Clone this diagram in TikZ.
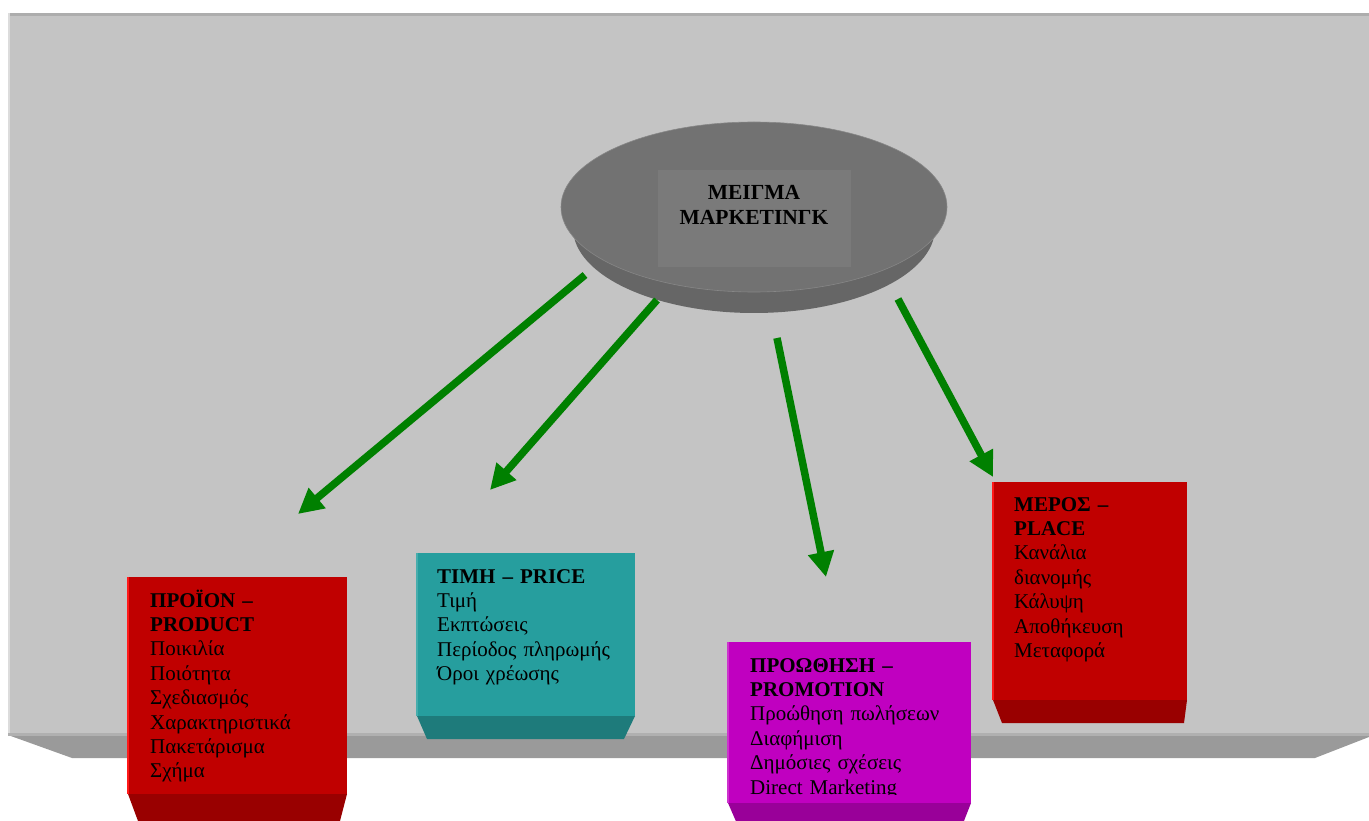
\documentclass[tikz,border=0pt]{standalone}
\usepackage{fontspec}
\setmainfont{Liberation Serif}
\usetikzlibrary{arrows.meta,shapes.geometric}
\definecolor{panel}{HTML}{C4C4C4}
\definecolor{paneltop}{HTML}{ADADAD}
\definecolor{panelleft}{HTML}{DCDCDC}
\definecolor{bevelgray}{HTML}{9A9A9A}
\definecolor{bevelline}{HTML}{B0B0B0}
\definecolor{ellTop}{HTML}{727272}
\definecolor{ellSide}{HTML}{666666}
\definecolor{ellRect}{HTML}{7A7A7A}
\definecolor{arrowgreen}{HTML}{008000}
\definecolor{redface}{HTML}{C00000}
\definecolor{redbev}{HTML}{990000}
\definecolor{tealface}{HTML}{269E9E}
\definecolor{tealbev}{HTML}{1E7B7B}
\definecolor{magface}{HTML}{C000C0}
\definecolor{magbev}{HTML}{990099}
\begin{document}
\begin{tikzpicture}[x=1pt,y=-1pt,
  face/.style={rectangle, inner sep=0pt, outer sep=0pt},
  txt/.style={anchor=base west, inner sep=0pt, text width=260pt, align=left,
              font=\fontsize{21}{24.4}\selectfont},
  greenarrow/.style={draw=arrowgreen, line width=7.5pt,
              -{Triangle[length=25pt,width=25pt]}, fill=arrowgreen}]
\useasboundingbox (0,0) rectangle (1369,821);
\clip (0,0) rectangle (1369,821);

% panel
\fill[panelleft] (8,13) rectangle (10,735);
\fill[panel] (10,13) rectangle (1369,735);
\fill[paneltop] (10,13) rectangle (1369,16);
\fill[bevelgray] (8,735) -- (1369,735) -- (1369,737) -- (1315,758) -- (72,758) -- cycle;
\fill[bevelline] (8,733) rectangle (1369,736);

% central ellipse (cylinder)
\fill[ellSide] (754,228) ellipse [x radius=181, y radius=85];
\node[ellipse, fill=ellTop, minimum width=386pt, minimum height=170pt, inner sep=0pt] (mix) at (754,207) {};
\draw[ellTop!85!white, line width=0.6pt] (754,207) ellipse [x radius=193, y radius=85];
\node[face, fill=ellRect, minimum width=193pt, minimum height=97pt] (mixrect) at (754.5,218.5) {};
\node[inner sep=0pt, align=center, font=\bfseries\fontsize{21.5}{25}\selectfont, anchor=base] (mixtext) at (754,225) {ΜΕΙΓΜΑ\\ΜΑΡΚΕΤΙΝΓΚ};

% boxes: bevels
\fill[redbev] (128,794) -- (347,794) -- (340,821) -- (138,821) -- cycle;
\fill[tealbev] (417,716) -- (635,716) -- (624,739) -- (427,739) -- cycle;
\fill[magbev] (728,803) -- (971,803) -- (962,826) -- (738,826) -- cycle;
\fill[redbev] (993,700) -- (1187,700) -- (1184,723) -- (1002,723) -- cycle;

% boxes: faces
\node[face, fill=redface, minimum width=219pt, minimum height=217pt] (productbox) at (237.5,685.5) {};
\node[face, fill=tealface, minimum width=218pt, minimum height=163pt] (pricebox) at (526,634.5) {};
\node[face, fill=magface, minimum width=243pt, minimum height=161pt] (promobox) at (849.5,722.5) {};
\node[face, fill=redface, minimum width=194pt, minimum height=218pt] (placebox) at (1090,591) {};
\draw[red!90!white, line width=1.5pt] (productbox.south west) -- (productbox.north west);
\draw[red!90!white, line width=1.5pt] (placebox.south west) -- (placebox.north west);
\draw[magface!80!white, line width=1.5pt] (promobox.south west) -- (promobox.north west);
\draw[tealface!85!white, line width=1.5pt] (pricebox.south west) -- (pricebox.north west);

% texts
\node[txt] (producttext) at (150,607) {\textbf{ΠΡΟΪΟΝ –}\\\textbf{PRODUCT}\\Ποικιλία\\Ποιότητα\\Σχεδιασμός\\Χαρακτηριστικά\\Πακετάρισμα\\Σχήμα};
\node[txt] (pricetext) at (437,583) {\textbf{ΤΙΜΗ – PRICE}\\Τιμή\\Εκπτώσεις\\Περίοδος πληρωμής\\Όροι χρέωσης};
\begin{scope}
\clip (728,642) rectangle (971,794);
\node[txt] (promotext) at (750,672) {\textbf{ΠΡΟΩΘΗΣΗ –}\\\textbf{PROMOTION}\\Προώθηση πωλήσεων\\Διαφήμιση\\Δημόσιες σχέσεις\\Direct Marketing};
\end{scope}
\node[txt] (placetext) at (1014,511) {\textbf{ΜΕΡΟΣ –}\\\textbf{PLACE}\\Κανάλια\\διανομής\\Κάλυψη\\Αποθήκευση\\Μεταφορά};

% arrows
\coordinate (a1s) at (585,275); \coordinate (a1e) at (298,514);
\coordinate (a2s) at (657,300); \coordinate (a2e) at (490,490);
\coordinate (a3s) at (777,338); \coordinate (a3e) at (826,577);
\coordinate (a4s) at (898,299); \coordinate (a4e) at (993,477);
\draw[greenarrow] (a1s) -- (a1e);
\draw[greenarrow] (a2s) -- (a2e);
\draw[greenarrow] (a3s) -- (a3e);
\draw[greenarrow] (a4s) -- (a4e);
\end{tikzpicture}
\end{document}
